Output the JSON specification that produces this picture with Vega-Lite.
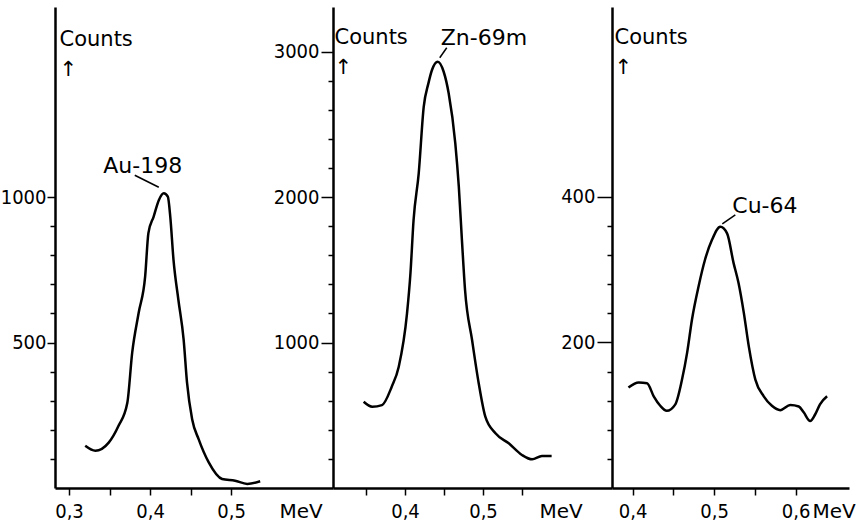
{
  "$schema": "https://vega.github.io/schema/vega-lite/v6.json",
  "background": "white",
  "padding": {"left": 0, "top": 7, "right": 0, "bottom": 0},
  "bounds": "flush",
  "spacing": 0,
  "config": {
    "view": {"stroke": null},
    "axis": {
      "domainColor": "black", "domainWidth": 2.5, "tickColor": "black", "tickWidth": 1.5,
      "labelColor": "black", "titleColor": "black", "grid": false,
      "labelFont": "DejaVu Sans Condensed", "labelFontSize": 20,
      "titleFont": "DejaVu Sans", "titleFontSize": 20, "titleFontWeight": "normal",
      "labelOverlap": false, "labelFlush": false
    },
    "text": {"font": "DejaVu Sans", "fontSize": 22, "color": "black"}
  },
  "datasets": {
    "spectra": [
      {"iso": "Au-198", "e": 0.320, "c": 145}, {"iso": "Au-198", "e": 0.3325, "c": 128}, {"iso": "Au-198", "e": 0.349, "c": 156},
      {"iso": "Au-198", "e": 0.361, "c": 213}, {"iso": "Au-198", "e": 0.372, "c": 293}, {"iso": "Au-198", "e": 0.378, "c": 465},
      {"iso": "Au-198", "e": 0.386, "c": 602}, {"iso": "Au-198", "e": 0.394, "c": 727}, {"iso": "Au-198", "e": 0.398, "c": 876},
      {"iso": "Au-198", "e": 0.4045, "c": 933}, {"iso": "Au-198", "e": 0.411, "c": 990}, {"iso": "Au-198", "e": 0.417, "c": 1013},
      {"iso": "Au-198", "e": 0.422, "c": 1001}, {"iso": "Au-198", "e": 0.425, "c": 933}, {"iso": "Au-198", "e": 0.429, "c": 784},
      {"iso": "Au-198", "e": 0.435, "c": 647}, {"iso": "Au-198", "e": 0.4415, "c": 510}, {"iso": "Au-198", "e": 0.4457, "c": 362},
      {"iso": "Au-198", "e": 0.452, "c": 236}, {"iso": "Au-198", "e": 0.460, "c": 168}, {"iso": "Au-198", "e": 0.4725, "c": 88},
      {"iso": "Au-198", "e": 0.489, "c": 31}, {"iso": "Au-198", "e": 0.505, "c": 25}, {"iso": "Au-198", "e": 0.520, "c": 14},
      {"iso": "Au-198", "e": 0.536, "c": 23},
      {"iso": "Zn-69m", "e": 0.347, "c": 593}, {"iso": "Zn-69m", "e": 0.358, "c": 559}, {"iso": "Zn-69m", "e": 0.3705, "c": 570},
      {"iso": "Zn-69m", "e": 0.383, "c": 696}, {"iso": "Zn-69m", "e": 0.392, "c": 834}, {"iso": "Zn-69m", "e": 0.4026, "c": 1200},
      {"iso": "Zn-69m", "e": 0.407, "c": 1476}, {"iso": "Zn-69m", "e": 0.411, "c": 1842}, {"iso": "Zn-69m", "e": 0.4176, "c": 2163},
      {"iso": "Zn-69m", "e": 0.424, "c": 2620}, {"iso": "Zn-69m", "e": 0.430, "c": 2781}, {"iso": "Zn-69m", "e": 0.4346, "c": 2873},
      {"iso": "Zn-69m", "e": 0.442, "c": 2930}, {"iso": "Zn-69m", "e": 0.4496, "c": 2861}, {"iso": "Zn-69m", "e": 0.456, "c": 2713},
      {"iso": "Zn-69m", "e": 0.4645, "c": 2369}, {"iso": "Zn-69m", "e": 0.469, "c": 2071}, {"iso": "Zn-69m", "e": 0.473, "c": 1704},
      {"iso": "Zn-69m", "e": 0.477, "c": 1361}, {"iso": "Zn-69m", "e": 0.486, "c": 1017}, {"iso": "Zn-69m", "e": 0.4945, "c": 720},
      {"iso": "Zn-69m", "e": 0.503, "c": 490}, {"iso": "Zn-69m", "e": 0.516, "c": 376}, {"iso": "Zn-69m", "e": 0.533, "c": 307},
      {"iso": "Zn-69m", "e": 0.550, "c": 227}, {"iso": "Zn-69m", "e": 0.563, "c": 197}, {"iso": "Zn-69m", "e": 0.5756, "c": 220},
      {"iso": "Zn-69m", "e": 0.588, "c": 220},
      {"iso": "Cu-64", "e": 0.395, "c": 138}, {"iso": "Cu-64", "e": 0.4076, "c": 145}, {"iso": "Cu-64", "e": 0.4178, "c": 144},
      {"iso": "Cu-64", "e": 0.426, "c": 126}, {"iso": "Cu-64", "e": 0.434, "c": 113}, {"iso": "Cu-64", "e": 0.442, "c": 106},
      {"iso": "Cu-64", "e": 0.4525, "c": 115}, {"iso": "Cu-64", "e": 0.4607, "c": 149}, {"iso": "Cu-64", "e": 0.467, "c": 186},
      {"iso": "Cu-64", "e": 0.473, "c": 232}, {"iso": "Cu-64", "e": 0.481, "c": 277}, {"iso": "Cu-64", "e": 0.489, "c": 314},
      {"iso": "Cu-64", "e": 0.4975, "c": 341}, {"iso": "Cu-64", "e": 0.5077, "c": 359}, {"iso": "Cu-64", "e": 0.516, "c": 350},
      {"iso": "Cu-64", "e": 0.524, "c": 309}, {"iso": "Cu-64", "e": 0.530, "c": 282}, {"iso": "Cu-64", "e": 0.5365, "c": 241},
      {"iso": "Cu-64", "e": 0.5426, "c": 195}, {"iso": "Cu-64", "e": 0.5507, "c": 149}, {"iso": "Cu-64", "e": 0.561, "c": 126},
      {"iso": "Cu-64", "e": 0.571, "c": 113}, {"iso": "Cu-64", "e": 0.5813, "c": 107}, {"iso": "Cu-64", "e": 0.5936, "c": 114},
      {"iso": "Cu-64", "e": 0.604, "c": 112}, {"iso": "Cu-64", "e": 0.610, "c": 104}, {"iso": "Cu-64", "e": 0.618, "c": 92},
      {"iso": "Cu-64", "e": 0.624, "c": 101}, {"iso": "Cu-64", "e": 0.630, "c": 115}, {"iso": "Cu-64", "e": 0.6387, "c": 126}
    ],
    "peaks": [
      {"iso": "Au-198", "e": 0.417, "c": 1013},
      {"iso": "Zn-69m", "e": 0.442, "c": 2930},
      {"iso": "Cu-64", "e": 0.5077, "c": 359}
    ]
  },
  "resolve": {"scale": {"x": "independent", "y": "independent"}},
  "hconcat": [
    {
      "width": 278, "height": 481,
      "encoding": {
        "x": {"field": "e", "type": "quantitative",
          "scale": {"domain": [0.2827, 0.6259], "nice": false, "zero": false},
          "axis": {"values": [0.3, 0.35, 0.4, 0.45, 0.5], "tickSize": 7, "labelPadding": 22, "labelBaseline": "alphabetic",
            "labelExpr": "round(datum.value*100) % 10 === 0 ? replace(format(datum.value, '.1f'), '.', ',') : ''",
            "title": "MeV", "titleX": 224, "titleY": 29, "titleAlign": "left", "titleBaseline": "alphabetic", "titleAnchor": null}},
        "y": {"field": "c", "type": "quantitative",
          "scale": {"domain": [0, 1653], "nice": false},
          "axis": {"values": [100, 200, 300, 400, 500, 600, 700, 800, 900, 1000],
            "tickSize": {"condition": {"test": "datum.value % 500 === 0", "value": 8}, "value": 5},
            "labelPadding": 1, "labelBaseline": "middle",
            "labelExpr": "datum.value % 500 === 0 ? format(datum.value, 'd') : ''",
            "title": ["Counts", "↑"], "titleAngle": 0, "titleX": 4, "titleY": 38, "titleAlign": "left",
            "titleBaseline": "alphabetic", "titleAnchor": null, "titleFontSize": 21, "titleLineHeight": 30}}
      },
      "layer": [
        {"data": {"name": "spectra"}, "transform": [{"filter": "datum.iso === 'Au-198'"}],
          "mark": {"type": "line", "color": "black", "strokeWidth": 2.5, "interpolate": "monotone"}},
        {"data": {"name": "peaks"}, "transform": [{"filter": "datum.iso === 'Au-198'"}],
          "mark": {"type": "rule", "color": "black", "strokeWidth": 1.5, "xOffset": -5, "yOffset": -6, "x2Offset": -29, "y2Offset": -18},
          "encoding": {"x2": {"field": "e"}, "y2": {"field": "c"}}},
        {"data": {"name": "peaks"}, "transform": [{"filter": "datum.iso === 'Au-198'"}],
          "mark": {"type": "text", "align": "center", "baseline": "alphabetic", "dx": -21, "dy": -20},
          "encoding": {"text": {"field": "iso"}}}
      ]
    },
    {
      "width": 279, "height": 481,
      "encoding": {
        "x": {"field": "e", "type": "quantitative",
          "scale": {"domain": [0.3077, 0.6654], "nice": false, "zero": false},
          "axis": {"values": [0.35, 0.4, 0.45, 0.5, 0.55], "tickSize": 7, "labelPadding": 22, "labelBaseline": "alphabetic",
            "labelExpr": "round(datum.value*100) % 10 === 0 ? replace(format(datum.value, '.1f'), '.', ',') : ''",
            "title": "MeV", "titleX": 206, "titleY": 29, "titleAlign": "left", "titleBaseline": "alphabetic", "titleAnchor": null}},
        "y": {"field": "c", "type": "quantitative",
          "scale": {"domain": [0, 3306], "nice": false},
          "axis": {"values": [200, 400, 600, 800, 1000, 1200, 1400, 1600, 1800, 2000, 2200, 2400, 2600, 2800, 3000],
            "tickSize": {"condition": {"test": "datum.value % 1000 === 0", "value": 12}, "value": 5},
            "labelPadding": 2, "labelBaseline": "middle",
            "labelExpr": "datum.value % 1000 === 0 ? format(datum.value, 'd') : ''",
            "title": ["Counts", "↑"], "titleAngle": 0, "titleX": 1, "titleY": 36, "titleAlign": "left",
            "titleBaseline": "alphabetic", "titleAnchor": null, "titleFontSize": 21, "titleLineHeight": 30}}
      },
      "layer": [
        {"data": {"name": "spectra"}, "transform": [{"filter": "datum.iso === 'Zn-69m'"}],
          "mark": {"type": "line", "color": "black", "strokeWidth": 2.5, "interpolate": "monotone"}},
        {"data": {"name": "peaks"}, "transform": [{"filter": "datum.iso === 'Zn-69m'"}],
          "mark": {"type": "rule", "color": "black", "strokeWidth": 1.5, "xOffset": 2, "yOffset": -4, "x2Offset": 9, "y2Offset": -14},
          "encoding": {"x2": {"field": "e"}, "y2": {"field": "c"}}},
        {"data": {"name": "peaks"}, "transform": [{"filter": "datum.iso === 'Zn-69m'"}],
          "mark": {"type": "text", "align": "left", "baseline": "alphabetic", "dx": 3, "dy": -17},
          "encoding": {"text": {"field": "iso"}}}
      ]
    },
    {
      "width": 237, "height": 481,
      "encoding": {
        "x": {"field": "e", "type": "quantitative",
          "scale": {"domain": [0.3748, 0.6656], "nice": false, "zero": false},
          "axis": {"values": [0.4, 0.45, 0.5, 0.55, 0.6], "tickSize": 7, "labelPadding": 22, "labelBaseline": "alphabetic",
            "labelExpr": "round(datum.value*100) % 10 === 0 ? replace(format(datum.value, '.1f'), '.', ',') : ''",
            "title": "MeV", "titleX": 200, "titleY": 29, "titleAlign": "left", "titleBaseline": "alphabetic", "titleAnchor": null}},
        "y": {"field": "c", "type": "quantitative",
          "scale": {"domain": [0, 661], "nice": false},
          "axis": {"values": [40, 80, 120, 160, 200, 240, 280, 320, 360, 400],
            "tickSize": {"condition": {"test": "datum.value % 200 === 0", "value": 15}, "value": 5},
            "labelPadding": 2, "labelBaseline": "middle",
            "labelExpr": "datum.value % 200 === 0 ? format(datum.value, 'd') : ''",
            "title": ["Counts", "↑"], "titleAngle": 0, "titleX": 2, "titleY": 36, "titleAlign": "left",
            "titleBaseline": "alphabetic", "titleAnchor": null, "titleFontSize": 21, "titleLineHeight": 30}}
      },
      "layer": [
        {"data": {"name": "spectra"}, "transform": [{"filter": "datum.iso === 'Cu-64'"}],
          "mark": {"type": "line", "color": "black", "strokeWidth": 2.5, "interpolate": "monotone"}},
        {"data": {"name": "peaks"}, "transform": [{"filter": "datum.iso === 'Cu-64'"}],
          "mark": {"type": "rule", "color": "black", "strokeWidth": 1.5, "xOffset": 2, "yOffset": -3, "x2Offset": 15, "y2Offset": -12},
          "encoding": {"x2": {"field": "e"}, "y2": {"field": "c"}}},
        {"data": {"name": "peaks"}, "transform": [{"filter": "datum.iso === 'Cu-64'"}],
          "mark": {"type": "text", "align": "left", "baseline": "alphabetic", "dx": 12, "dy": -14},
          "encoding": {"text": {"field": "iso"}}}
      ]
    }
  ]
}
